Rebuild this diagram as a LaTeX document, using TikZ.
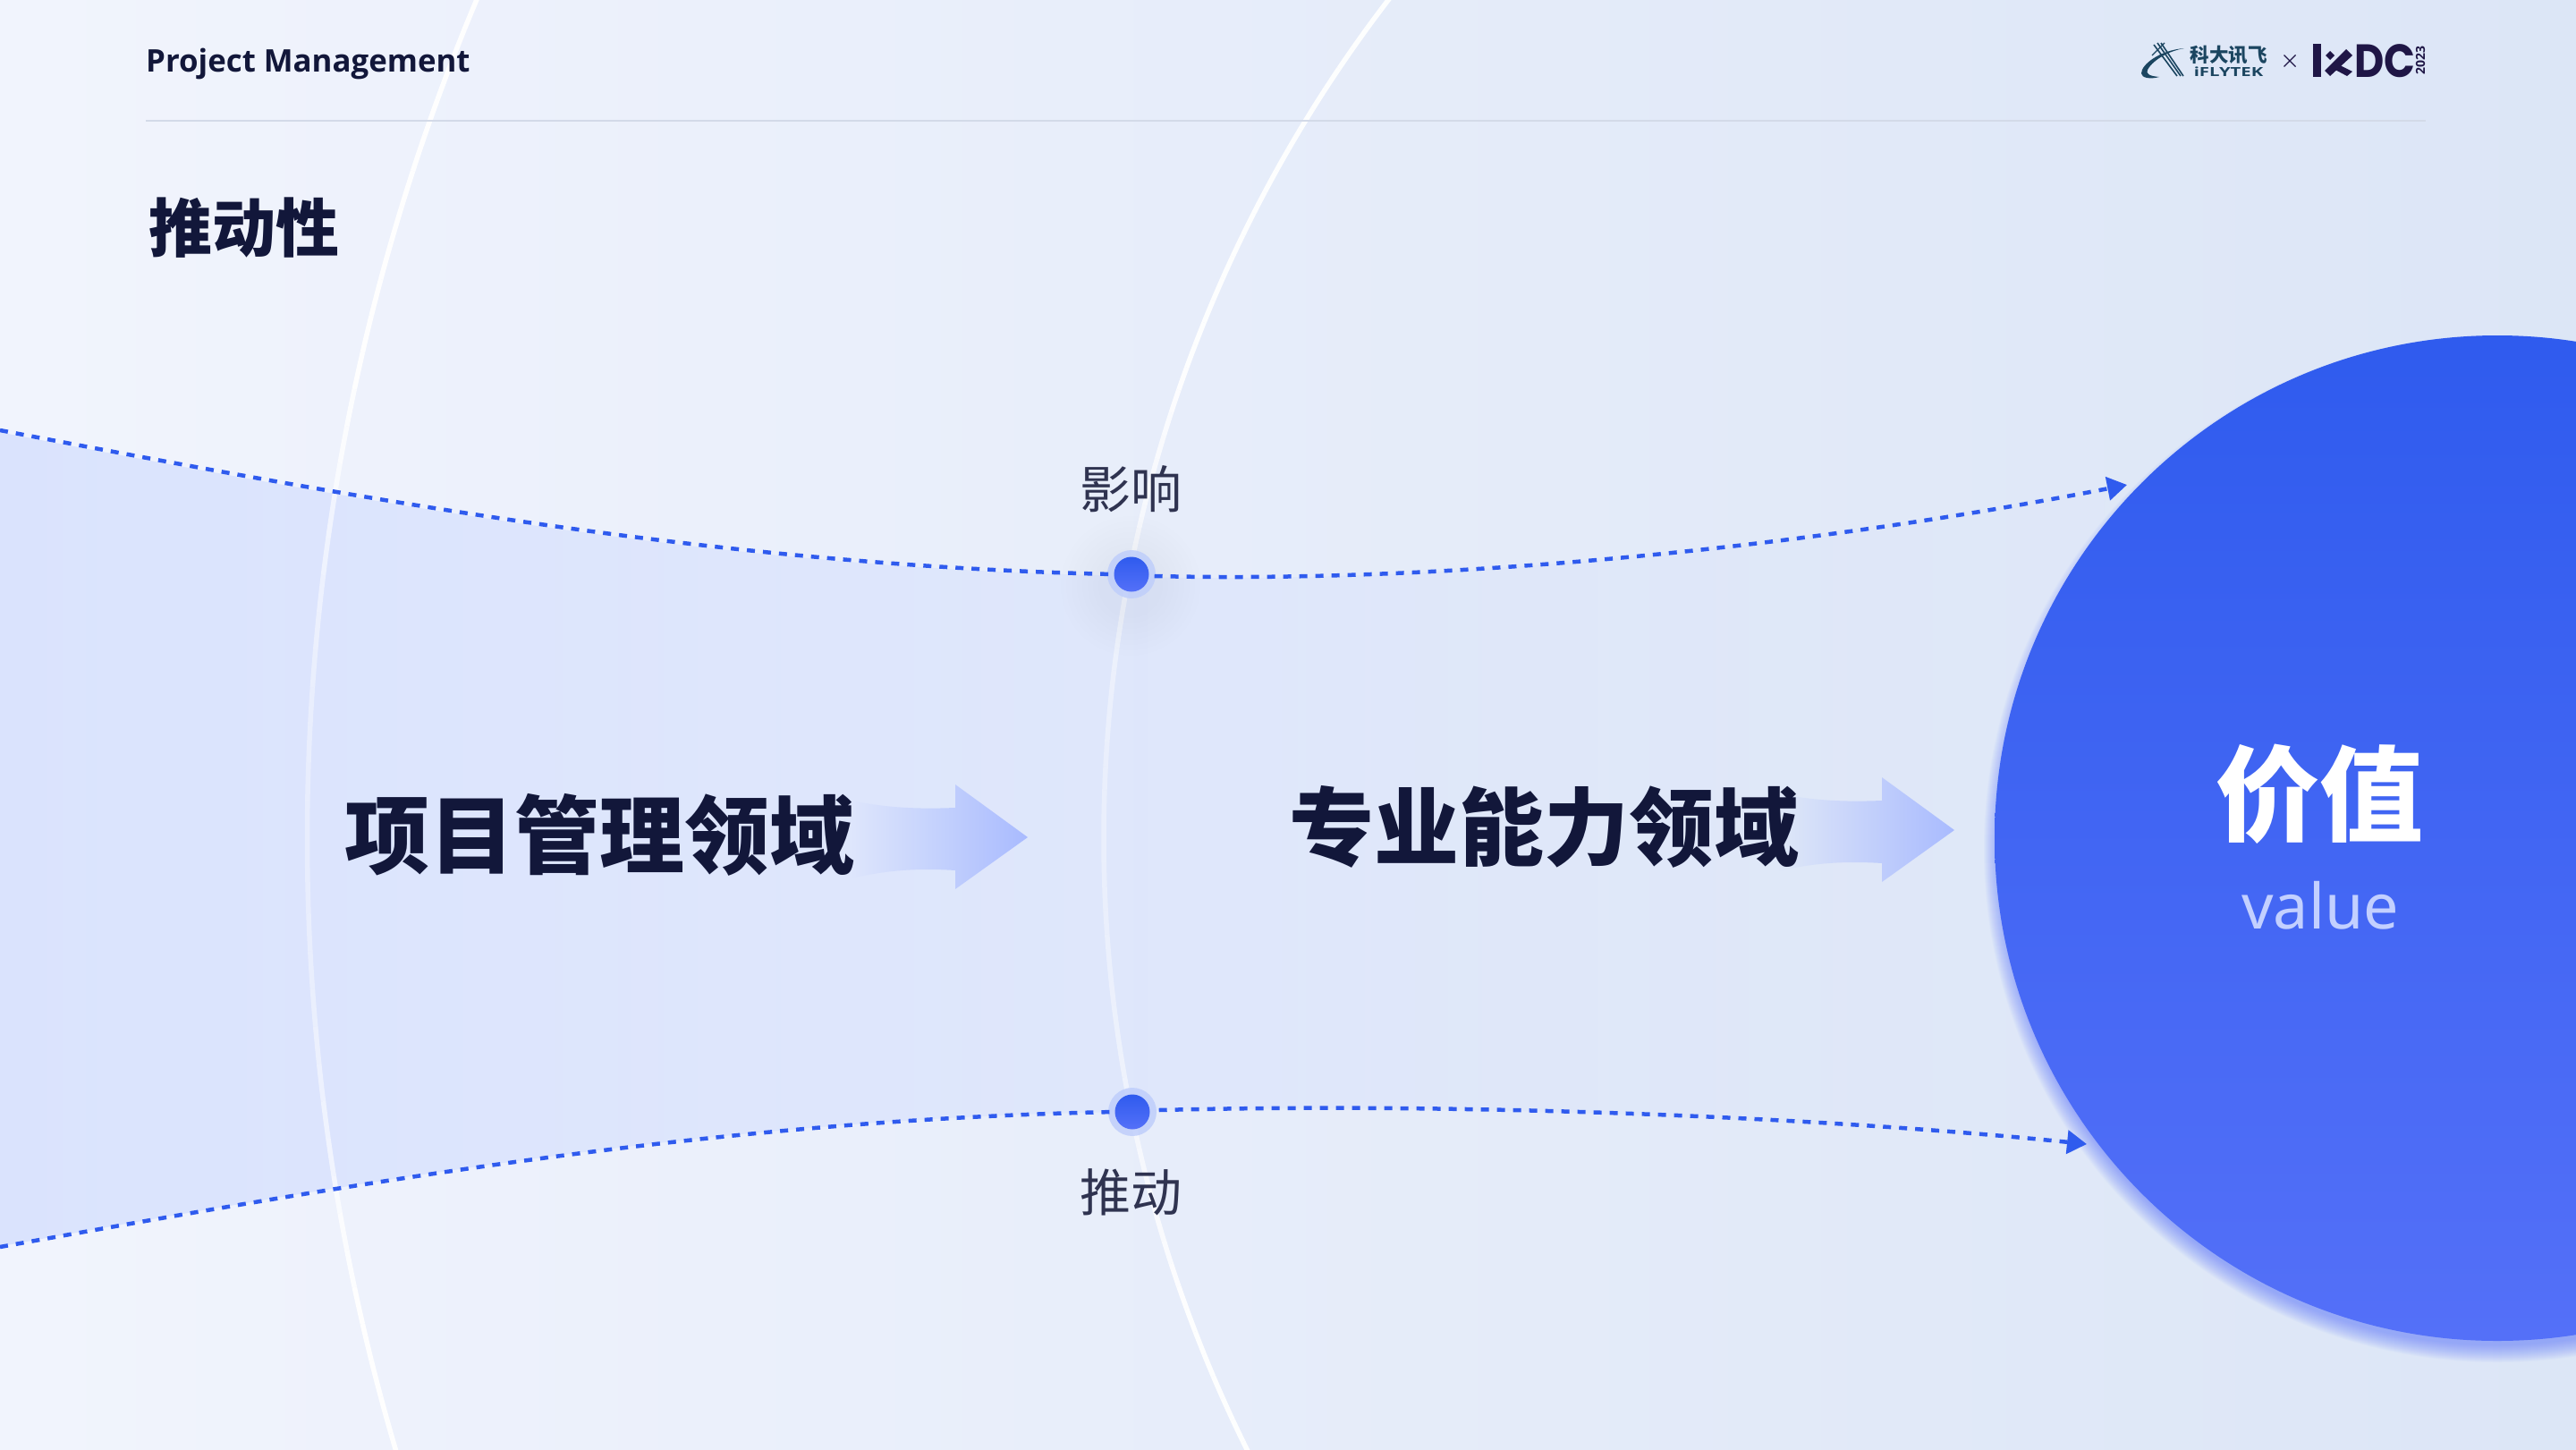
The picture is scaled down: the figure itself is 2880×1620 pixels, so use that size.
\documentclass[tikz,border=0pt]{standalone}
\usepackage{fontspec}
\usetikzlibrary{arrows.meta,fadings,shapes.geometric}
\setmainfont{Noto Sans}
\newfontfamily\cjk{Noto Sans CJK SC}
\newfontfamily\logofont{Poppins}
\newfontfamily\headfont{Open Sans}
\definecolor{ink}{HTML}{12173A}
\definecolor{soft}{HTML}{2F3350}
\definecolor{flow}{HTML}{2F5BEE}
\definecolor{flowb}{HTML}{5470F8}
\definecolor{bandc}{HTML}{C4D3FF}
\definecolor{haloc}{HTML}{BFCEFB}
\definecolor{arrowc}{HTML}{A9BBFF}
\definecolor{rulec}{HTML}{D3DAE8}
\definecolor{xfly}{HTML}{1B4560}
\definecolor{xdc}{HTML}{1F1646}
\definecolor{valc}{HTML}{C3D0FF}
\definecolor{bg0}{HTML}{FDFDFF}
\definecolor{bg1}{HTML}{EEF2FC}
\definecolor{bg2}{HTML}{E1E9F8}
\definecolor{bg3}{HTML}{D8E3F5}
\pgfdeclarehorizontalshading{pagebgx}{100bp}{
 color(0bp)=(bg0);
 color(32bp)=(bg1);
 color(62bp)=(bg2);
 color(85bp)=(bg3);
 color(100bp)=(bg3)}
\tikzfading[name=bandfade,left color=transparent!50,right color=transparent!100]
\tikzfading[name=headfade,left color=transparent!100,right color=transparent!0]
\tikzset{
 flowline/.style={flow,line width=4.5pt,dash pattern=on 9pt off 9pt},
 flowtip/.style={-{Stealth[length=22pt,width=26pt,inset=0pt]}},
 dotcore/.style={circle,minimum size=39pt,inner sep=0pt,top color=flow,bottom color=flowb},
 bigtext/.style={font=\cjk\bfseries\fontsize{95}{95}\selectfont,text=ink,inner sep=0pt},
 sidetext/.style={font=\cjk\fontsize{57}{57}\selectfont,text=soft,inner sep=0pt},
 flowarrow/.style={arrowc,path fading=headfade}
}
\begin{document}
\begin{tikzpicture}[x=1pt,y=-1pt]
\useasboundingbox (0,0) rectangle (2880,1620);
\begin{scope}
\clip (0,0) rectangle (2880,1620);
\shade[shading=pagebgx] (0,0) rectangle (2880,1620);
% band
\fill[bandc,path fading=bandfade] (0,481) .. controls (400,557) and (800,632) .. (1240,642)
  -- (1290,644) .. controls (1620,652) and (2020,612) .. (2370,546)
  -- (2333,1279) .. controls (2050,1250) and (1650,1232) .. (1295,1241)
  -- (1240,1243) .. controls (800,1252) and (400,1322) .. (0,1394) -- cycle;
% white arcs, opacity falling towards the middle
\foreach \a in {155,156,...,204}{
  \pgfmathsetmacro{\op}{min(0.95,0.35+0.75*(abs(\a+0.5-180)/14)^2)}
  \draw[white,line width=5.5pt,opacity=\op] (2757.5,937) ++(\a:2414) arc[start angle=\a,end angle=\a+1,radius=2414];
}
\foreach \a in {140,141,...,219}{
  \pgfmathsetmacro{\op}{min(0.95,0.35+0.75*(abs(\a+0.5-180)/22)^2)}
  \draw[white,line width=5.5pt,opacity=\op] (2773,937) ++(\a:1539) arc[start angle=\a,end angle=\a+1,radius=1539];
}
% dot glow
\foreach \r in {36,42,...,78}{\fill[flow,opacity=.003] (1264,655) circle[radius=\r];}
% value circle glow
\foreach \i in {1,...,20}{\fill[flowb,opacity=.03] (2792,949) circle[radius=554+1*\i];}
\node[circle,minimum size=1124pt,inner sep=0pt,top color=flow,bottom color=flowb] (value) at (2792,937) {};
% arrows
\fill[flowarrow] (953,895) .. controls (985,902) and (1020,905) .. (1068,903) -- (1068,877) -- (1149,936) -- (1068,994) -- (1068,973) .. controls (1020,970) and (985,974) .. (953,982) -- cycle;
\begin{scope}[shift={(1036,-8)}]
\fill[flowarrow] (953,895) .. controls (985,902) and (1020,905) .. (1068,903) -- (1068,877) -- (1149,936) -- (1068,994) -- (1068,973) .. controls (1020,970) and (985,974) .. (953,982) -- cycle;
\end{scope}
\end{scope}
% dots
\fill[haloc,opacity=.85] (1265,642) circle[radius=27];
\fill[haloc,opacity=.85] (1266,1243) circle[radius=27];
\node[dotcore] (dotU) at (1265,642) {};
\node[dotcore] (dotL) at (1266,1243) {};
% free ends
\coordinate (startU) at (0,481);
\coordinate (startL) at (0,1394);
\coordinate (endU) at (2378,542);
\coordinate (endL) at (2333,1279);
\draw[flowline] (startU) .. controls (400,557) and (800,632) .. (dotU.west);
\draw[flowline,flowtip] (dotU.east) ++(6,2) .. controls (1620,652) and (2020,612) .. (endU);
\draw[flowline] (startL) .. controls (400,1322) and (800,1252) .. (dotL.west);
\draw[flowline,flowtip] (dotL.east) ++(10,-2) .. controls (1650,1232) and (2050,1250) .. (endL);
% header
\node[anchor=base west,inner sep=0pt,text=ink,font=\headfont\bfseries\fontsize{34.8}{34.8}\selectfont] (head) at (163,80) {Project Management};
\coordinate (ruleL) at (163,135);
\coordinate (ruleR) at (2712,135);
\draw[rulec,line width=2pt] (ruleL) -- (ruleR);
\node[anchor=west,inner sep=0pt,text=ink,font=\cjk\bfseries\fontsize{71}{71}\selectfont] (title) at (166,255) {推动性};
% labels
\node[sidetext] (labU) at (1264,547) {影响};
\node[sidetext] (labL) at (1264,1333) {推动};
\node[bigtext] (domA) at (670.5,933) {项目管理领域};
\node[bigtext] (domB) at (1726,924) {专业能力领域};
\node[inner sep=0pt,text=white,font=\cjk\bfseries\fontsize{116}{116}\selectfont] (valzh) at (2593,888) {价值};
\node[inner sep=0pt,text=valc,font=\fontsize{70}{70}\selectfont] (valen) at (2594,1012) {value};
% iflytek logo
\fill[xfly] (2442,54) .. controls (2415,56) and (2394,72) .. (2394,82) .. controls (2394,87) and (2404,89) .. (2414,86) .. controls (2402,85) and (2399,82) .. (2401,78) .. controls (2405,70) and (2420,58) .. (2442,54) -- cycle;
\draw[xfly,line width=1.6pt] (2408,50) -- (2434,85);
\draw[xfly,line width=1.6pt] (2412,48) -- (2438,85);
\draw[xfly,line width=1.6pt] (2416,48) -- (2441,85);
\draw[xfly,line width=1.2pt] (2406,62) -- (2420,48);
\node[inner sep=0pt,text=xfly,font=\cjk\bfseries\fontsize{21.5}{21.5}\selectfont] (iflyzh) at (2491.5,62) {科大讯飞};
\node[inner sep=0pt,text=xfly,font=\headfont\bfseries\fontsize{14}{14}\selectfont,xscale=1.45] (iflyen) at (2491.5,80) {iFLYTEK};
\coordinate (crossA) at (2553.5,61.5);
\coordinate (crossB) at (2566.5,74.5);
\coordinate (crossC) at (2566.5,61.5);
\coordinate (crossD) at (2553.5,74.5);
\draw[xdc,line width=1.3pt] (crossA) -- (crossB) (crossC) -- (crossD);
% ixdc logo
\fill[xdc] (2586,49) rectangle (2595,86);
\fill[xdc] (2605,57) -- (2610,62) -- (2605,67) -- (2600,62) -- cycle;
\fill[xdc] (2623,55) -- (2630,62) -- (2605,85) -- (2599,79) -- cycle;
\fill[xdc] (2614,72) -- (2630,80) -- (2624,85) -- (2609,77) -- cycle;
\node[inner sep=0pt,text=xdc,font=\logofont\bfseries\fontsize{52}{52}\selectfont,anchor=base west,xscale=.88] (dc) at (2632,86) {DC};
\node[inner sep=0pt,text=xdc,rotate=90,font=\headfont\bfseries\fontsize{14}{14}\selectfont] (yr) at (2706,67.5) {2023};
\end{tikzpicture}
\end{document}
